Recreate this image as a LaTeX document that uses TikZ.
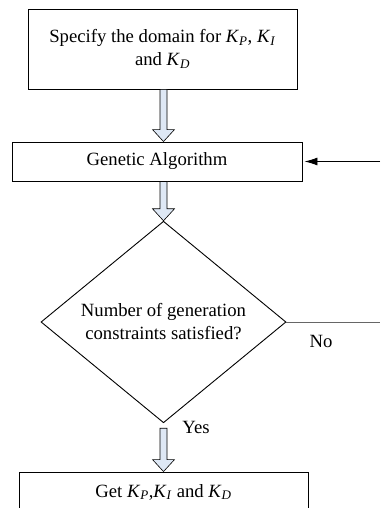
\documentclass[tikz,border=0pt]{standalone}
\usepackage{fontspec}
\setmainfont{Liberation Serif}
\usetikzlibrary{shapes.geometric,arrows.meta,calc}
\definecolor{arrfill}{RGB}{222,232,245}
\newcommand{\K}[1]{\textit{K}\textsubscript{\textit{#1}}}
\tikzset{
  procbox/.style={draw, line width=0.9pt, rectangle, inner sep=0pt, align=center,
    font=\fontsize{18.7}{23}\selectfont},
  decbox/.style={draw, line width=0.9pt, diamond, inner sep=0pt, align=center,
    font=\fontsize{18.7}{23}\selectfont},
  lbl/.style={font=\fontsize{18.7}{23}\selectfont, inner sep=0pt},
  blockarrow/.style={draw, line width=0.6pt, fill=arrfill, line join=miter},
  feedback/.style={draw, line width=0.9pt, -{Latex[length=13pt,width=8pt]}},
  noline/.style={draw, line width=0.9pt, black!60}
}
\newcommand{\blockarr}[2]{%
  \path[blockarrow] let \p1=(#1), \p2=(#2) in
    ({\x1-3.5pt},\y1) -- ({\x1-3.5pt},{\y2+12pt}) -- ({\x1-11pt},{\y2+12pt}) --
    (\x1,\y2) -- ({\x1+11pt},{\y2+12pt}) -- ({\x1+3.5pt},{\y2+12pt}) --
    ({\x1+3.5pt},\y1) -- cycle;}
\begin{document}
\begin{tikzpicture}[x=1pt,y=-1pt]
\useasboundingbox (0,0) rectangle (380,508);
\clip (0,0) rectangle (380,508);
\coordinate (ax) at (163.5,0);
\coordinate (fin) at (380,160);
\coordinate (nout) at (380,323);

\node[procbox, minimum width=269pt, minimum height=80pt] (box1) at (162.5,49)
  {Specify the domain for \K{P}, \K{I}\\and \K{D}};
\node[procbox, minimum width=290pt, minimum height=39pt] (box2) at (157,161.5)
  {Genetic Algorithm};
\node[decbox, minimum width=245pt, minimum height=188pt] (dec) at (163.5,322)
  {Number of generation\\constraints satisfied?};
\node[procbox, minimum width=289pt, minimum height=40pt] (box4) at (163.5,492)
  {Get \K{P},\K{I} and \K{D}};

\blockarr{box1.south -| ax}{box2.north -| ax}
\blockarr{box2.south -| ax}{dec.north}
\blockarr{$(dec.south)+(0,5)$}{box4.north -| ax}

\path[feedback] (fin |- box2.east) -- ([xshift=2pt]box2.east);
\path[noline] (dec.east) -- (nout |- dec.east);

\node[lbl] (no) at (321,341) {No};
\node[lbl] (yes) at (196,427) {Yes};
\end{tikzpicture}
\end{document}
